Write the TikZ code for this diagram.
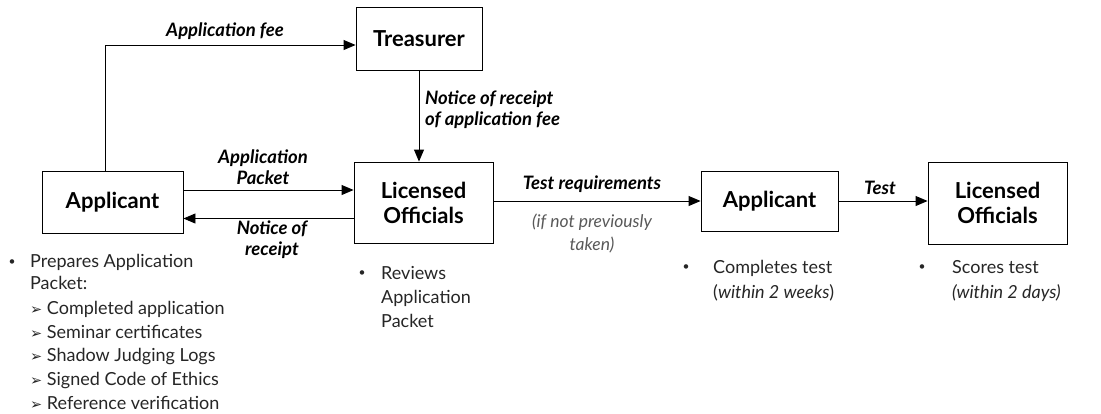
\documentclass[tikz,border=0pt]{standalone}
\usepackage{fontspec}
\setmainfont{Lato}
\newfontfamily\symfont{DejaVu Sans}
\usetikzlibrary{arrows.meta}
\tikzset{
  box/.style={draw, line width=0.9pt, font=\fontsize{22}{25}\selectfont\bfseries, align=center, inner sep=0pt},
  arr/.style={line width=0.9pt, -{Triangle[length=12pt,width=10pt]}},
  lbl/.style={font=\fontsize{18.5}{21}\selectfont\bfseries\itshape, align=center, inner sep=0pt},
  note/.style={font=\fontsize{17.5}{23}\selectfont\itshape, text=black!65, align=center, inner sep=0pt},
  bul/.style={font=\fontsize{18}{22}\selectfont, text=black!85, align=left, anchor=north west, inner sep=0pt},
  dot/.style={font=\fontsize{12}{12}\selectfont, text=black!85, inner sep=0pt},
}
\newcommand{\arrbul}{{\symfont\fontsize{14.5}{14.5}\selectfont ➢}}
\begin{document}
\begin{tikzpicture}[x=1pt,y=-1pt]
\useasboundingbox (0,0) rectangle (1101,413);
% boxes
\node[box, minimum width=126pt, minimum height=63pt] (treas) at (419,38.5) {Treasurer};
\node[box, minimum width=139pt, minimum height=81pt] (lo1) at (423.5,202.5) {Licensed\\Officials};
\node[box, minimum width=141pt, minimum height=62pt] (app1) at (112.5,202) {Applicant};
\node[box, minimum width=137pt, minimum height=60pt] (app2) at (769.5,201) {Applicant};
\node[box, minimum width=139pt, minimum height=82pt] (lo2) at (997.5,203) {Licensed\\Officials};
% connectors
\coordinate (feeturn) at (105,45);
\draw[arr] (app1.north -| feeturn) -- (feeturn) -- (treas.west |- feeturn);
\draw[arr] (treas.south) -- (treas.south |- lo1.north);
\draw[arr] ([yshift=12pt]app1.east) -- ([yshift=12pt]app1.east -| lo1.west);
\draw[arr] ([yshift=-16pt]lo1.west) -- ([yshift=-16pt]lo1.west -| app1.east);
\draw[arr] (lo1.east |- app2.west) -- (app2.west);
\draw[arr] (app2.east) -- (app2.east -| lo2.west);
% labels
\node[lbl] (lfee) at (225,31) {Application fee};
\node[lbl, anchor=west, align=left] (lnot) at (425,110) {Notice of receipt\\of application fee};
\node[lbl] (lpack) at (263,167) {Application\\Packet};
\node[lbl] (lrec) at (272,240) {Notice of\\receipt};
\node[lbl] (ltest) at (592,184) {Test requirements};
\node[note] (lprev) at (592,233) {(if not previously\\taken)};
\node[lbl] (lt) at (880,188) {Test};
% bullet lists
\node[bul] (b1) at (30,254) {Prepares Application\\Packet:};
\node[dot] (d1) at (12,263) {•};
\node[bul, font=\fontsize{18}{23.7}\selectfont] (b1s) at (30,301) {\arrbul\ Completed application\\\arrbul\ Seminar certificates\\\arrbul\ Shadow Judging Logs\\\arrbul\ Signed Code of Ethics\\\arrbul\ Reference verification};
\node[dot] (d2) at (362,274) {•};
\node[bul, font=\fontsize{18}{24}\selectfont] (b2) at (381,266) {Reviews\\Application\\Packet};
\node[dot] (d3) at (686,268) {•};
\node[bul, font=\fontsize{18}{25}\selectfont] (b3) at (713,260) {Completes test\\(\textit{within 2 weeks})};
\node[dot] (d4) at (922,268) {•};
\node[bul, font=\fontsize{18}{25}\selectfont] (b4) at (952,260) {Scores test\\\textit{(within 2 days)}};
\end{tikzpicture}
\end{document}
